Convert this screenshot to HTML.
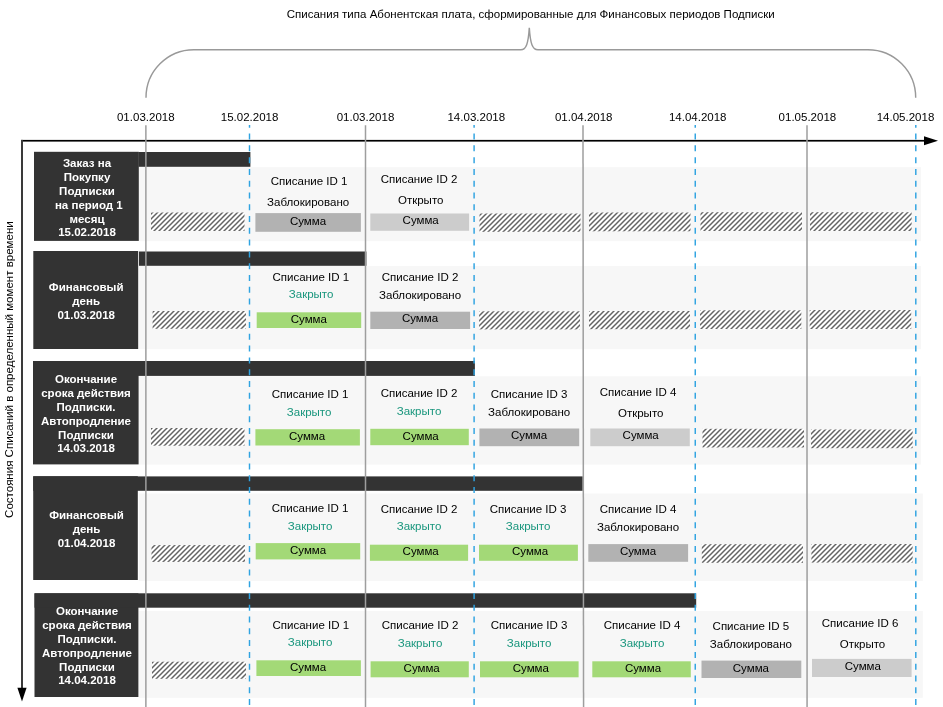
<!DOCTYPE html>
<html><head><meta charset="utf-8"><title>diagram</title>
<style>
html,body{margin:0;padding:0;background:#fff;}
body{width:943px;height:707px;overflow:hidden;}
svg{display:block;font-family:"Liberation Sans",sans-serif;will-change:transform;transform:translateZ(0);}
</style></head><body>
<svg width="943" height="707" viewBox="0 0 943 707">
<defs>
<pattern id="hp" width="5" height="5" patternUnits="userSpaceOnUse">
<rect width="5" height="5" fill="#fff"/>
<path d="M-1,6 L6,-1 M-1,1 L1,-1 M4,6 L6,4" stroke="#646464" stroke-width="1.5"/>
</pattern>
</defs>
<rect x="139" y="167.2" width="782" height="74.0" fill="#f7f7f7"/>
<rect x="139" y="266" width="782" height="83.2" fill="#f7f7f7"/>
<rect x="139" y="376.3" width="781.8" height="88.3" fill="#f7f7f7"/>
<rect x="139" y="493.5" width="783.8" height="87.5" fill="#f7f7f7"/>
<rect x="139" y="611" width="783.8" height="86.8" fill="#f7f7f7"/>
<rect x="151" y="212.5" width="93.5" height="18.5" fill="url(#hp)"/>
<rect x="479.5" y="213.5" width="101.0" height="18.3" fill="url(#hp)"/>
<rect x="589" y="212.5" width="101.5" height="18.8" fill="url(#hp)"/>
<rect x="700.5" y="212.2" width="101.5" height="18.8" fill="url(#hp)"/>
<rect x="810" y="212.2" width="101.6" height="18.8" fill="url(#hp)"/>
<rect x="152.6" y="311" width="93.4" height="17.8" fill="url(#hp)"/>
<rect x="479.1" y="311.3" width="100.9" height="18.1" fill="url(#hp)"/>
<rect x="589" y="311" width="101" height="18.2" fill="url(#hp)"/>
<rect x="700" y="310.3" width="101.3" height="18.7" fill="url(#hp)"/>
<rect x="809.7" y="310" width="101.5" height="19" fill="url(#hp)"/>
<rect x="151" y="428" width="93.5" height="17.7" fill="url(#hp)"/>
<rect x="702.5" y="428.8" width="101.5" height="18.7" fill="url(#hp)"/>
<rect x="811" y="429.5" width="101.6" height="18.7" fill="url(#hp)"/>
<rect x="151.5" y="545.1" width="93.5" height="16.8" fill="url(#hp)"/>
<rect x="701.8" y="544.2" width="101.2" height="18.6" fill="url(#hp)"/>
<rect x="811.4" y="544" width="101.2" height="18.6" fill="url(#hp)"/>
<rect x="152" y="661.7" width="94" height="17.1" fill="url(#hp)"/>
<rect x="34" y="151.8" width="104.8" height="89.1" fill="#333333"/>
<rect x="33.3" y="251" width="104.9" height="98" fill="#333333"/>
<rect x="33" y="361.0" width="105.6" height="103.4" fill="#333333"/>
<rect x="33.2" y="476.2" width="104.6" height="103.8" fill="#333333"/>
<rect x="34.5" y="593.3" width="103.9" height="103.7" fill="#333333"/>
<rect x="138.5" y="152" width="111.9" height="14.8" fill="#333333"/>
<rect x="139" y="251.5" width="227.4" height="14.3" fill="#333333"/>
<rect x="33" y="361.0" width="441.9" height="14.9" fill="#333333"/>
<rect x="33.2" y="476.4" width="549.5" height="14.4" fill="#333333"/>
<rect x="34.5" y="593.3" width="661.7" height="14.4" fill="#333333"/>
<rect x="255.4" y="213.1" width="105.5" height="18.7" fill="#b2b2b2"/>
<text x="309.1" y="185.4" fill="#000" text-anchor="middle" font-weight="normal" font-size="11.52" >Списание ID 1</text>
<text x="308.1" y="205.9" fill="#000" text-anchor="middle" font-weight="normal" font-size="11.52" >Заблокировано</text>
<text x="308" y="224.9" fill="#000" text-anchor="middle" font-weight="normal" font-size="11.52" >Сумма</text>
<rect x="370.3" y="213.5" width="98.8" height="17.3" fill="#cccccc"/>
<text x="419" y="183.4" fill="#000" text-anchor="middle" font-weight="normal" font-size="11.52" >Списание ID 2</text>
<text x="420.7" y="203.9" fill="#000" text-anchor="middle" font-weight="normal" font-size="11.52" >Открыто</text>
<text x="420.7" y="223.9" fill="#000" text-anchor="middle" font-weight="normal" font-size="11.52" >Сумма</text>
<rect x="256.7" y="312.3" width="104.5" height="15.7" fill="#a3d977"/>
<text x="310.8" y="281.3" fill="#000" text-anchor="middle" font-weight="normal" font-size="11.52" >Списание ID 1</text>
<text x="311.1" y="298.0" fill="#19967d" text-anchor="middle" font-weight="normal" font-size="11.52" >Закрыто</text>
<text x="308.8" y="323.1" fill="#000" text-anchor="middle" font-weight="normal" font-size="11.52" >Сумма</text>
<rect x="370.3" y="311.7" width="99.8" height="17.3" fill="#b2b2b2"/>
<text x="420" y="281.3" fill="#000" text-anchor="middle" font-weight="normal" font-size="11.52" >Списание ID 2</text>
<text x="420" y="299.0" fill="#000" text-anchor="middle" font-weight="normal" font-size="11.52" >Заблокировано</text>
<text x="420" y="322.1" fill="#000" text-anchor="middle" font-weight="normal" font-size="11.52" >Сумма</text>
<rect x="255.4" y="429.2" width="104.5" height="16.3" fill="#a3d977"/>
<text x="310.1" y="398.4" fill="#000" text-anchor="middle" font-weight="normal" font-size="11.52" >Списание ID 1</text>
<text x="309.1" y="415.9" fill="#19967d" text-anchor="middle" font-weight="normal" font-size="11.52" >Закрыто</text>
<text x="307.1" y="439.9" fill="#000" text-anchor="middle" font-weight="normal" font-size="11.52" >Сумма</text>
<rect x="370.3" y="428.8" width="98.5" height="16.4" fill="#a3d977"/>
<text x="419" y="397.4" fill="#000" text-anchor="middle" font-weight="normal" font-size="11.52" >Списание ID 2</text>
<text x="419" y="414.9" fill="#19967d" text-anchor="middle" font-weight="normal" font-size="11.52" >Закрыто</text>
<text x="420.7" y="439.9" fill="#000" text-anchor="middle" font-weight="normal" font-size="11.52" >Сумма</text>
<rect x="479.4" y="428.5" width="99.8" height="17.7" fill="#b2b2b2"/>
<text x="529.1" y="398.4" fill="#000" text-anchor="middle" font-weight="normal" font-size="11.52" >Списание ID 3</text>
<text x="529.1" y="415.9" fill="#000" text-anchor="middle" font-weight="normal" font-size="11.52" >Заблокировано</text>
<text x="529.1" y="439.2" fill="#000" text-anchor="middle" font-weight="normal" font-size="11.52" >Сумма</text>
<rect x="590.3" y="428.5" width="99.5" height="17.7" fill="#cccccc"/>
<text x="638" y="396.4" fill="#000" text-anchor="middle" font-weight="normal" font-size="11.52" >Списание ID 4</text>
<text x="640.7" y="416.9" fill="#000" text-anchor="middle" font-weight="normal" font-size="11.52" >Открыто</text>
<text x="640.7" y="439.2" fill="#000" text-anchor="middle" font-weight="normal" font-size="11.52" >Сумма</text>
<rect x="255.7" y="543.1" width="104.5" height="16.3" fill="#a3d977"/>
<text x="310.1" y="512.3" fill="#000" text-anchor="middle" font-weight="normal" font-size="11.52" >Списание ID 1</text>
<text x="310.1" y="529.8" fill="#19967d" text-anchor="middle" font-weight="normal" font-size="11.52" >Закрыто</text>
<text x="308.1" y="554.1" fill="#000" text-anchor="middle" font-weight="normal" font-size="11.52" >Сумма</text>
<rect x="369.9" y="544.7" width="98.2" height="16.1" fill="#a3d977"/>
<text x="419" y="513.1" fill="#000" text-anchor="middle" font-weight="normal" font-size="11.52" >Списание ID 2</text>
<text x="419" y="529.8" fill="#19967d" text-anchor="middle" font-weight="normal" font-size="11.52" >Закрыто</text>
<text x="420.7" y="555.1" fill="#000" text-anchor="middle" font-weight="normal" font-size="11.52" >Сумма</text>
<rect x="479" y="544.7" width="98.9" height="16.1" fill="#a3d977"/>
<text x="528.1" y="513.1" fill="#000" text-anchor="middle" font-weight="normal" font-size="11.52" >Списание ID 3</text>
<text x="528.1" y="529.8" fill="#19967d" text-anchor="middle" font-weight="normal" font-size="11.52" >Закрыто</text>
<text x="530.1" y="555.1" fill="#000" text-anchor="middle" font-weight="normal" font-size="11.52" >Сумма</text>
<rect x="588.3" y="544.1" width="99.8" height="17.7" fill="#b2b2b2"/>
<text x="638" y="513.1" fill="#000" text-anchor="middle" font-weight="normal" font-size="11.52" >Списание ID 4</text>
<text x="638" y="530.8" fill="#000" text-anchor="middle" font-weight="normal" font-size="11.52" >Заблокировано</text>
<text x="638" y="555.1" fill="#000" text-anchor="middle" font-weight="normal" font-size="11.52" >Сумма</text>
<rect x="256.4" y="660.3" width="104.5" height="15.7" fill="#a3d977"/>
<text x="310.8" y="628.9" fill="#000" text-anchor="middle" font-weight="normal" font-size="11.52" >Списание ID 1</text>
<text x="310.1" y="646.0" fill="#19967d" text-anchor="middle" font-weight="normal" font-size="11.52" >Закрыто</text>
<text x="308.1" y="670.7" fill="#000" text-anchor="middle" font-weight="normal" font-size="11.52" >Сумма</text>
<rect x="370.6" y="661.3" width="98.2" height="16.0" fill="#a3d977"/>
<text x="420" y="628.9" fill="#000" text-anchor="middle" font-weight="normal" font-size="11.52" >Списание ID 2</text>
<text x="420" y="647.0" fill="#19967d" text-anchor="middle" font-weight="normal" font-size="11.52" >Закрыто</text>
<text x="421.7" y="671.7" fill="#000" text-anchor="middle" font-weight="normal" font-size="11.52" >Сумма</text>
<rect x="480" y="661.3" width="98.6" height="16.0" fill="#a3d977"/>
<text x="529.1" y="628.9" fill="#000" text-anchor="middle" font-weight="normal" font-size="11.52" >Списание ID 3</text>
<text x="529.1" y="647.0" fill="#19967d" text-anchor="middle" font-weight="normal" font-size="11.52" >Закрыто</text>
<text x="530.8" y="671.7" fill="#000" text-anchor="middle" font-weight="normal" font-size="11.52" >Сумма</text>
<rect x="592.3" y="661.3" width="98.5" height="16.0" fill="#a3d977"/>
<text x="642" y="628.9" fill="#000" text-anchor="middle" font-weight="normal" font-size="11.52" >Списание ID 4</text>
<text x="642" y="647.0" fill="#19967d" text-anchor="middle" font-weight="normal" font-size="11.52" >Закрыто</text>
<text x="643" y="671.7" fill="#000" text-anchor="middle" font-weight="normal" font-size="11.52" >Сумма</text>
<rect x="701.5" y="660.6" width="99.8" height="17.4" fill="#b2b2b2"/>
<text x="750.9" y="629.9" fill="#000" text-anchor="middle" font-weight="normal" font-size="11.52" >Списание ID 5</text>
<text x="750.9" y="648.0" fill="#000" text-anchor="middle" font-weight="normal" font-size="11.52" >Заблокировано</text>
<text x="750.9" y="671.7" fill="#000" text-anchor="middle" font-weight="normal" font-size="11.52" >Сумма</text>
<rect x="812" y="658.9" width="99.6" height="18.1" fill="#cccccc"/>
<text x="860.1" y="626.9" fill="#000" text-anchor="middle" font-weight="normal" font-size="11.52" >Списание ID 6</text>
<text x="862.5" y="648.0" fill="#000" text-anchor="middle" font-weight="normal" font-size="11.52" >Открыто</text>
<text x="862.8" y="670.0" fill="#000" text-anchor="middle" font-weight="normal" font-size="11.52" >Сумма</text>
<text x="87" y="167.25" fill="#fff" text-anchor="middle" font-weight="bold" font-size="11.52" >Заказ на</text>
<text x="87" y="181.07" fill="#fff" text-anchor="middle" font-weight="bold" font-size="11.52" >Покупку</text>
<text x="87" y="194.89" fill="#fff" text-anchor="middle" font-weight="bold" font-size="11.52" >Подписки</text>
<text x="88.8" y="208.71" fill="#fff" text-anchor="middle" font-weight="bold" font-size="11.52" >на период 1</text>
<text x="87" y="222.53" fill="#fff" text-anchor="middle" font-weight="bold" font-size="11.52" >месяц</text>
<text x="87" y="236.35" fill="#fff" text-anchor="middle" font-weight="bold" font-size="11.52" >15.02.2018</text>
<text x="86.2" y="290.98" fill="#fff" text-anchor="middle" font-weight="bold" font-size="11.52" >Финансовый</text>
<text x="86.2" y="304.8" fill="#fff" text-anchor="middle" font-weight="bold" font-size="11.52" >день</text>
<text x="86.2" y="318.62" fill="#fff" text-anchor="middle" font-weight="bold" font-size="11.52" >01.03.2018</text>
<text x="86" y="383.25" fill="#fff" text-anchor="middle" font-weight="bold" font-size="11.52" >Окончание</text>
<text x="86" y="397.07" fill="#fff" text-anchor="middle" font-weight="bold" font-size="11.52" >срока действия</text>
<text x="86" y="410.89" fill="#fff" text-anchor="middle" font-weight="bold" font-size="11.52" >Подписки.</text>
<text x="86" y="424.71" fill="#fff" text-anchor="middle" font-weight="bold" font-size="11.52" >Автопродление</text>
<text x="86" y="438.53" fill="#fff" text-anchor="middle" font-weight="bold" font-size="11.52" >Подписки</text>
<text x="86" y="452.35" fill="#fff" text-anchor="middle" font-weight="bold" font-size="11.52" >14.03.2018</text>
<text x="86.5" y="518.98" fill="#fff" text-anchor="middle" font-weight="bold" font-size="11.52" >Финансовый</text>
<text x="86.5" y="532.8" fill="#fff" text-anchor="middle" font-weight="bold" font-size="11.52" >день</text>
<text x="86.5" y="546.62" fill="#fff" text-anchor="middle" font-weight="bold" font-size="11.52" >01.04.2018</text>
<text x="87" y="615.25" fill="#fff" text-anchor="middle" font-weight="bold" font-size="11.52" >Окончание</text>
<text x="87" y="629.07" fill="#fff" text-anchor="middle" font-weight="bold" font-size="11.52" >срока действия</text>
<text x="87" y="642.89" fill="#fff" text-anchor="middle" font-weight="bold" font-size="11.52" >Подписки.</text>
<text x="87" y="656.71" fill="#fff" text-anchor="middle" font-weight="bold" font-size="11.52" >Автопродление</text>
<text x="87" y="670.53" fill="#fff" text-anchor="middle" font-weight="bold" font-size="11.52" >Подписки</text>
<text x="87" y="684.35" fill="#fff" text-anchor="middle" font-weight="bold" font-size="11.52" >14.04.2018</text>
<rect x="21" y="139.9" width="904" height="1.7" fill="#000"/>
<rect x="21" y="139.9" width="2" height="550.1" fill="#3a3a3a"/>
<polygon points="938,140.7 924,136.2 924,145.2" fill="#000"/>
<polygon points="22,701.5 17.4,687.8 26.6,687.8" fill="#000"/>
<line x1="145.9" y1="125.2" x2="145.85" y2="707" stroke="#9e9e9e" stroke-width="1.5"/>
<line x1="365.5" y1="125.2" x2="365.48" y2="707" stroke="#9e9e9e" stroke-width="1.5"/>
<line x1="583.0" y1="125.2" x2="583.55" y2="707" stroke="#9e9e9e" stroke-width="1.5"/>
<line x1="807.0" y1="125.2" x2="807.05" y2="707" stroke="#9e9e9e" stroke-width="1.5"/>
<line x1="249.5" y1="124.9" x2="249.5" y2="707" stroke="#2fa3e1" stroke-width="1.45" stroke-dasharray="6 5.78" stroke-dashoffset="3.1"/>
<line x1="474.1" y1="124.9" x2="474.1" y2="707" stroke="#2fa3e1" stroke-width="1.45" stroke-dasharray="6 5.78" stroke-dashoffset="3.1"/>
<line x1="695.25" y1="124.9" x2="695.25" y2="707" stroke="#2fa3e1" stroke-width="1.45" stroke-dasharray="6 5.78" stroke-dashoffset="3.1"/>
<line x1="915.8" y1="124.9" x2="915.8" y2="707" stroke="#2fa3e1" stroke-width="1.45" stroke-dasharray="6 5.78" stroke-dashoffset="3.1"/>
<text x="145.8" y="121.2" fill="#000" text-anchor="middle" font-weight="normal" font-size="11.52" >01.03.2018</text>
<text x="249.6" y="121.2" fill="#000" text-anchor="middle" font-weight="normal" font-size="11.52" >15.02.2018</text>
<text x="365.5" y="121.2" fill="#000" text-anchor="middle" font-weight="normal" font-size="11.52" >01.03.2018</text>
<text x="476.3" y="121.2" fill="#000" text-anchor="middle" font-weight="normal" font-size="11.52" >14.03.2018</text>
<text x="583.7" y="121.2" fill="#000" text-anchor="middle" font-weight="normal" font-size="11.52" >01.04.2018</text>
<text x="697.7" y="121.2" fill="#000" text-anchor="middle" font-weight="normal" font-size="11.52" >14.04.2018</text>
<text x="807.4" y="121.2" fill="#000" text-anchor="middle" font-weight="normal" font-size="11.52" >01.05.2018</text>
<text x="905.5" y="121.2" fill="#000" text-anchor="middle" font-weight="normal" font-size="11.52" >14.05.2018</text>
<text x="530.7" y="17.6" fill="#000" text-anchor="middle" font-weight="normal" font-size="11.52" >Списания типа Абонентская плата, сформированные для Финансовых периодов Подписки</text>
<path d="M146,97.8 A47.8,48 0 0 1 193.8,49.75 L520.8,49.75 C526.2,49.75 528.3,43.5 529.3,27.8 C530.3,43.5 532.4,49.75 538,49.75 L867.9,49.75 A47.8,48 0 0 1 915.7,97.8" fill="none" stroke="#999" stroke-width="1.45"/>
<text transform="translate(13.3,517.9) rotate(-90)" font-size="11.52" fill="#000">Состояния Списаний в определенный момент времени</text>
</svg>
</body></html>
